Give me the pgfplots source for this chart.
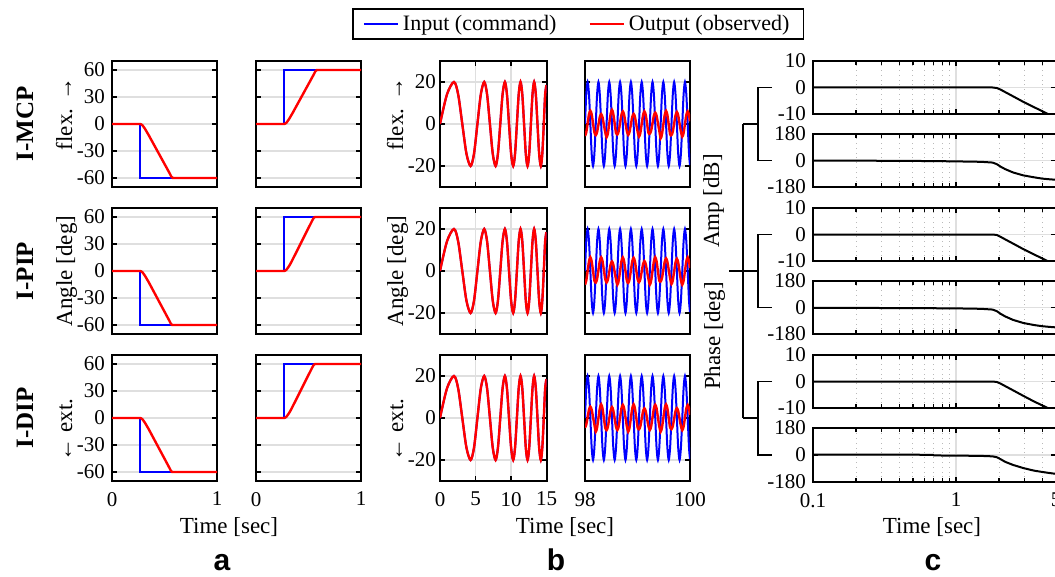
\documentclass[border=0pt]{standalone}
\usepackage{fontspec}
\setmainfont{Liberation Serif}
\newfontfamily\panelfont{Liberation Sans}
\usepackage{pgfplots}
\usepackage{pgfplotstable}
\pgfplotsset{compat=1.18}

% chirp, first 15 s (input and output overlap)
\pgfplotstableread{
t y
0 0
0.985 14.14
1.97 20
2.555 14.14
3.14 0
3.725 -14.14
4.31 -20
4.79 -14.14
5.27 0
5.75 14.14
6.23 20
6.63 14.14
7.03 0
7.43 -14.14
7.83 -20
8.16 -14.14
8.49 0
8.815 14.14
9.14 20
9.43 14.14
9.72 0
10.015 -14.14
10.31 -20
10.57 -14.14
10.83 0
11.085 14.14
11.34 20
11.59 14.14
11.84 0
12.085 -14.14
12.33 -20
12.565 -14.14
12.80 0
13.03 14.14
13.26 20
13.495 14.14
13.73 0
13.965 -14.14
14.20 -20
14.41 -14.14
14.62 0
14.81 14.14
15.0 18.5
}\sweep

% chirp, last 2 s: input b, outputs of the three joints
\pgfplotstableread{
t b r1 r2 r3
98.000 0 -5.7 -6.5 -4.6
98.024 14.1 -4.0 -4.6 -3.2
98.050 20 0.3 0 0.4
98.076 14.1 4.6 4.6 4.0
98.102 0 6.3 6.5 5.4
98.127 -14.1 4.6 4.6 4.0
98.153 -20 0.3 0 0.4
98.179 -14.1 -4.0 -4.6 -3.2
98.205 0 -5.3 -5.5 -6.5
98.230 14.1 -3.9 -3.8 -4.6
98.256 20 -0.3 0.5 0
98.282 14.1 3.3 4.8 4.6
98.308 0 4.7 6.5 6.5
98.333 -14.1 3.3 4.8 4.6
98.359 -20 -0.3 0.5 0
98.385 -14.1 -3.9 -3.8 -4.6
98.411 0 -6.3 -5.5 -5.8
98.436 14.1 -4.4 -4.1 -4.2
98.462 20 0.2 -0.5 -0.3
98.488 14.1 4.8 3.1 3.6
98.514 0 6.7 4.5 5.2
98.539 -14.1 4.8 3.1 3.6
98.565 -20 0.2 -0.5 -0.3
98.591 -14.1 -4.4 -4.1 -4.2
98.617 0 -5.0 -6.5 -5.7
98.642 14.1 -3.4 -4.6 -4.0
98.668 20 0.5 0 0.3
98.694 14.1 4.4 4.6 4.6
98.720 0 6.0 6.5 6.3
98.745 -14.1 4.4 4.6 4.6
98.771 -20 0.5 0 0.3
98.797 -14.1 -3.4 -4.6 -4.0
98.823 0 -5.2 -5.7 -6.5
98.848 14.1 -3.8 -4.0 -4.6
98.874 20 -0.2 0.3 0
98.900 14.1 3.4 4.6 4.6
98.926 0 4.8 6.3 6.5
98.951 -14.1 3.4 4.6 4.6
98.977 -20 -0.2 0.3 0
99.003 -14.1 -3.8 -4.0 -4.6
99.029 0 -6.0 -5.3 -5.4
99.054 14.1 -4.3 -3.9 -4.0
99.080 20 0 -0.3 -0.4
99.106 14.1 4.3 3.3 3.2
99.132 0 6.0 4.7 4.6
99.157 -14.1 4.3 3.3 3.2
99.183 -20 0 -0.3 -0.4
99.209 -14.1 -4.3 -3.9 -4.0
99.235 0 -4.6 -6.5 -5.7
99.260 14.1 -3.2 -4.6 -4.0
99.286 20 0.4 0 0.3
99.312 14.1 4.0 4.6 4.6
99.338 0 5.4 6.5 6.3
99.363 -14.1 4.0 4.6 4.6
99.389 -20 0.4 0 0.3
99.415 -14.1 -3.2 -4.6 -4.0
99.441 0 -6.8 -5.0 -6.5
99.466 14.1 -4.9 -3.4 -4.6
99.492 20 -0.3 0.5 0
99.518 14.1 4.3 4.4 4.6
99.544 0 6.2 6.0 6.5
99.569 -14.1 4.3 4.4 4.6
99.595 -20 -0.3 0.5 0
99.621 -14.1 -4.9 -3.4 -4.6
99.647 0 -5.3 -6.2 -5.3
99.672 14.1 -3.7 -4.5 -3.9
99.698 20 0.2 -0.2 -0.3
99.724 14.1 4.1 4.1 3.3
99.750 0 5.7 5.8 4.7
99.775 -14.1 4.1 4.1 3.3
99.801 -20 0.2 -0.2 -0.3
99.827 -14.1 -3.7 -4.5 -3.9
99.853 0 -6.0 -6.5 -5.8
99.878 14.1 -4.3 -4.6 -4.1
99.904 20 0 0 0.2
99.930 14.1 4.3 4.6 4.5
99.956 0 6.0 6.5 6.2
99.981 -14.1 4.3 4.6 4.5
100.000 -19.5 1.3 1.4 1.5
}\steady

% frequency response: amplitude [dB] and phase [deg]
\pgfplotstableread{
f a1 p1 a2 p2 a3 p3
0.1 0 0 0 -2 0 2
0.2 0 -1 0 -3 0 2
0.5 0 -3 0 -4 0 2
0.69 0 -4 0 -5 0 1
0.7 0 -4 0 -5 0 -3
1 0 -6 0 -6 0 -4
1.5 0 -9 0 -9 0 -6
1.8 0 -14 0 -14 0 -9
1.93 -0.2 -25 -0.2 -25 -0.2 -15
2.05 -0.8 -42 -0.9 -43 -0.8 -28
2.2 -1.7 -58 -1.8 -60 -1.7 -45
2.5 -3.3 -81 -3.4 -84 -3.3 -66
2.95 -5.4 -101 -5.5 -105 -5.4 -87
3.5 -7.4 -114 -7.5 -119 -7.5 -104
4.0 -8.9 -123 -9.0 -127 -9.0 -113
4.42 -10.1 -127 -10.2 -131 -10.1 -119
5.0 -11.6 -131 -11.8 -135 -11.7 -126
}\bode

\newcommand\lab{\fontsize{11.5}{13}\selectfont}

\pgfplotsset{
  base/.style={
    scale only axis, anchor=north west,
    axis line style={line width=1pt},
    tick style={black, line width=0.6pt},
    major tick length=2.5pt, minor tick length=2pt,
    tick label style={font=\fontsize{10.5}{12}\selectfont},
    /pgf/number format/assume math mode=true,
    major grid style={gray!25, line width=0.6pt},
    xticklabel style={yshift=-2pt},
  },
  stepax/.style={base, width=52.5pt, height=63pt, xmin=0, xmax=1,
    ymin=-70, ymax=70, xtick={0,1}, ytick={-60,-30,0,30,60}, ymajorgrids},
  swp/.style={base, width=53.25pt, height=63pt, xmin=0, xmax=15,
    ymin=-30, ymax=30, xtick={0,5,10,15}, ytick={-20,0,20}, grid=major,
    yticklabel style={xshift=1.5pt}},
  ss/.style={base, width=52.5pt, height=63pt, xmin=98, xmax=100,
    ymin=-30, ymax=30, xtick={98,100}, ytick={-20,0,20}, ymajorgrids,
    yticklabels={}},
  bodeax/.style={base, width=121.5pt, height=26.5pt,
    xmin=0.1, xmax=5, xtick={0.1,1,5},
    minor xtick={0.2,0.3,0.4,0.5,0.6,0.7,0.8,0.9,2,3,4},
    xmajorgrids, xminorgrids, ymajorgrids,
    minor grid style={gray!55, dotted, line width=0.5pt}},
  amp/.style={bodeax, ymin=-10, ymax=10, ytick={-10,0,10}},
  phs/.style={bodeax, ymin=-180, ymax=180, ytick={-180,0,180}},
  nox/.style={xticklabels={}},
  noy/.style={yticklabels={}},
  inp/.style={blue, line width=1pt},
  outp/.style={red, line width=1.2pt},
  blk/.style={black, line width=1pt},
}

\begin{document}
\begin{tikzpicture}
\useasboundingbox (0,0) rectangle (527.5pt,-288.5pt);
\begin{scope}[x=0.5pt, y=-0.5pt]
  % axis corners, in pixels of the reference
  \coordinate (A1) at (112,61);  \coordinate (B1) at (256,61);
  \coordinate (A2) at (112,208); \coordinate (B2) at (256,208);
  \coordinate (A3) at (112,355); \coordinate (B3) at (256,355);
  \coordinate (C1) at (440,61);  \coordinate (D1) at (585,61);
  \coordinate (C2) at (440,208); \coordinate (D2) at (585,208);
  \coordinate (C3) at (440,355); \coordinate (D3) at (585,355);
  \coordinate (E1) at (813,61);  \coordinate (E2) at (813,134);
  \coordinate (E3) at (813,208); \coordinate (E4) at (813,281);
  \coordinate (E5) at (813,355); \coordinate (E6) at (813,428);

  % row names
  \foreach \yy/\tt in {124/I-MCP, 271/I-PIP, 418/I-DIP}
    \node[rotate=90, anchor=base, font=\bfseries\fontsize{12.5}{14}\selectfont]
      at (33,\yy) {\tt};
  % joint-angle labels for panels a and b
  \foreach \xx in {72,403} {
    \node[rotate=90, anchor=base, font=\lab] at (\xx,114) {flex. →};
    \node[rotate=90, anchor=base, font=\lab] at (\xx,271) {Angle [deg]};
    \node[rotate=90, anchor=base, font=\lab] at (\xx,430) {← ext.};
  }
  \node[rotate=90, anchor=base, font=\lab] at (719,201) {Amp [dB]};
  \node[rotate=90, anchor=base, font=\lab] at (720,336) {Phase [deg]};
  % brackets of panel c
  \draw[line width=0.8pt] (743,124) -- (743,418);
  \draw[line width=0.8pt] (743,124) -- (758,124);
  \draw[line width=0.8pt] (729,271) -- (758,271);
  \draw[line width=0.8pt] (743,418) -- (758,418);
  \foreach \ya/\yb in {87.5/160.5, 234.5/307.5, 381.5/455}
    \draw[line width=0.8pt] (772,\ya) -- (758,\ya) -- (758,\yb) -- (772,\yb);

  \foreach \xx in {229,565,932}
    \node[anchor=base, font=\lab] at (\xx,533) {Time [sec]};
  \node[anchor=base, font=\panelfont\bfseries\fontsize{15}{18}\selectfont] at (222,570) {a};
  \node[anchor=base, font=\panelfont\bfseries\fontsize{15}{18}\selectfont] at (556,570) {b};
  \node[anchor=base, font=\panelfont\bfseries\fontsize{15}{18}\selectfont] at (933,570) {c};
\end{scope}

% ---------------- panel a ----------------
\begin{axis}[stepax, nox, at={(A1)},
  legend style={at={(4.44,1.294)}, anchor=center, draw=black, line width=0.8pt,
    font=\fontsize{11}{13}\selectfont, legend columns=2,
    /tikz/every even column/.append style={column sep=14pt},
    inner ysep=1pt, inner xsep=5pt, cells={anchor=west}}]
\addplot[inp] coordinates {(0,0) (0.267,0) (0.267,-60) (1,-60)};
\addlegendentry{Input (command)}
\addplot[outp] coordinates {(0,0) (0.267,0) (0.28,-0.5) (0.29,-1.5) (0.30,-3)
  (0.315,-5.5) (0.33,-8.5) (0.35,-12.5) (0.55,-55) (0.565,-58.5) (0.58,-60) (1,-60)};
\addlegendentry{Output (observed)}
\end{axis}
\begin{axis}[stepax, nox, noy, at={(B1)}]
\addplot[inp] coordinates {(0,0) (0.267,0) (0.267,60) (1,60)};
\addplot[outp] coordinates {(0,0) (0.267,0) (0.28,0.5) (0.29,1.5) (0.30,3)
  (0.315,5.5) (0.33,8.5) (0.35,12.5) (0.55,55) (0.565,58.5) (0.58,60) (1,60)};
\end{axis}
\begin{axis}[stepax, nox, at={(A2)}]
\addplot[inp] coordinates {(0,0) (0.267,0) (0.267,-60) (1,-60)};
\addplot[outp] coordinates {(0,0) (0.267,0) (0.28,-0.5) (0.29,-1.5) (0.30,-3)
  (0.315,-5.5) (0.33,-8.5) (0.35,-12.5) (0.545,-55) (0.56,-58.5) (0.572,-60) (1,-60)};
\end{axis}
\begin{axis}[stepax, nox, noy, at={(B2)}]
\addplot[inp] coordinates {(0,0) (0.267,0) (0.267,60) (1,60)};
\addplot[outp] coordinates {(0,0) (0.267,0) (0.28,0.5) (0.29,1.5) (0.30,3)
  (0.315,5.5) (0.33,8.5) (0.35,13) (0.535,56) (0.55,59) (0.562,60) (1,60)};
\end{axis}
\begin{axis}[stepax, at={(A3)}]
\addplot[inp] coordinates {(0,0) (0.267,0) (0.267,-60) (1,-60)};
\addplot[outp] coordinates {(0,0) (0.267,0) (0.28,-0.5) (0.29,-1.5) (0.30,-3)
  (0.315,-5.5) (0.33,-8.5) (0.35,-12.5) (0.545,-55) (0.56,-58.5) (0.572,-60) (1,-60)};
\end{axis}
\begin{axis}[stepax, noy, at={(B3)}]
\addplot[inp] coordinates {(0,0) (0.267,0) (0.267,60) (1,60)};
\addplot[outp] coordinates {(0,0) (0.267,0) (0.28,0.5) (0.29,1.5) (0.30,3)
  (0.315,5.5) (0.33,8.5) (0.35,13) (0.535,56) (0.55,59) (0.562,60) (1,60)};
\end{axis}

% ---------------- panel b ----------------
\begin{axis}[swp, nox, at={(C1)}]
\addplot[inp, smooth] table[x=t, y=y] {\sweep};
\addplot[outp, smooth] table[x=t, y=y] {\sweep};
\end{axis}
\begin{axis}[ss, nox, at={(D1)}]
\addplot[inp, smooth] table[x=t, y=b] {\steady};
\addplot[outp, smooth] table[x=t, y=r1] {\steady};
\end{axis}
\begin{axis}[swp, nox, at={(C2)}]
\addplot[inp, smooth] table[x=t, y=y] {\sweep};
\addplot[outp, smooth] table[x=t, y=y] {\sweep};
\end{axis}
\begin{axis}[ss, nox, at={(D2)}]
\addplot[inp, smooth] table[x=t, y=b] {\steady};
\addplot[outp, smooth] table[x=t, y=r2] {\steady};
\end{axis}
\begin{axis}[swp, at={(C3)}]
\addplot[inp, smooth] table[x=t, y=y] {\sweep};
\addplot[outp, smooth] table[x=t, y=y] {\sweep};
\end{axis}
\begin{axis}[ss, at={(D3)}]
\addplot[inp, smooth] table[x=t, y=b] {\steady};
\addplot[outp, smooth] table[x=t, y=r3] {\steady};
\end{axis}

% ---------------- panel c ----------------
\begin{semilogxaxis}[amp, nox, at={(E1)}]
\addplot[blk] table[x=f, y=a1] {\bode};
\end{semilogxaxis}
\begin{semilogxaxis}[phs, nox, at={(E2)}]
\addplot[blk] table[x=f, y=p1] {\bode};
\end{semilogxaxis}
\begin{semilogxaxis}[amp, nox, at={(E3)}]
\addplot[blk] table[x=f, y=a2] {\bode};
\end{semilogxaxis}
\begin{semilogxaxis}[phs, nox, at={(E4)}]
\addplot[blk] table[x=f, y=p2] {\bode};
\end{semilogxaxis}
\begin{semilogxaxis}[amp, nox, at={(E5)}]
\addplot[blk] table[x=f, y=a3] {\bode};
\end{semilogxaxis}
\begin{semilogxaxis}[phs, at={(E6)}, height=27pt, xticklabels={0.1,1,5}]
\addplot[blk] table[x=f, y=p3] {\bode};
\end{semilogxaxis}
\end{tikzpicture}
\end{document}
